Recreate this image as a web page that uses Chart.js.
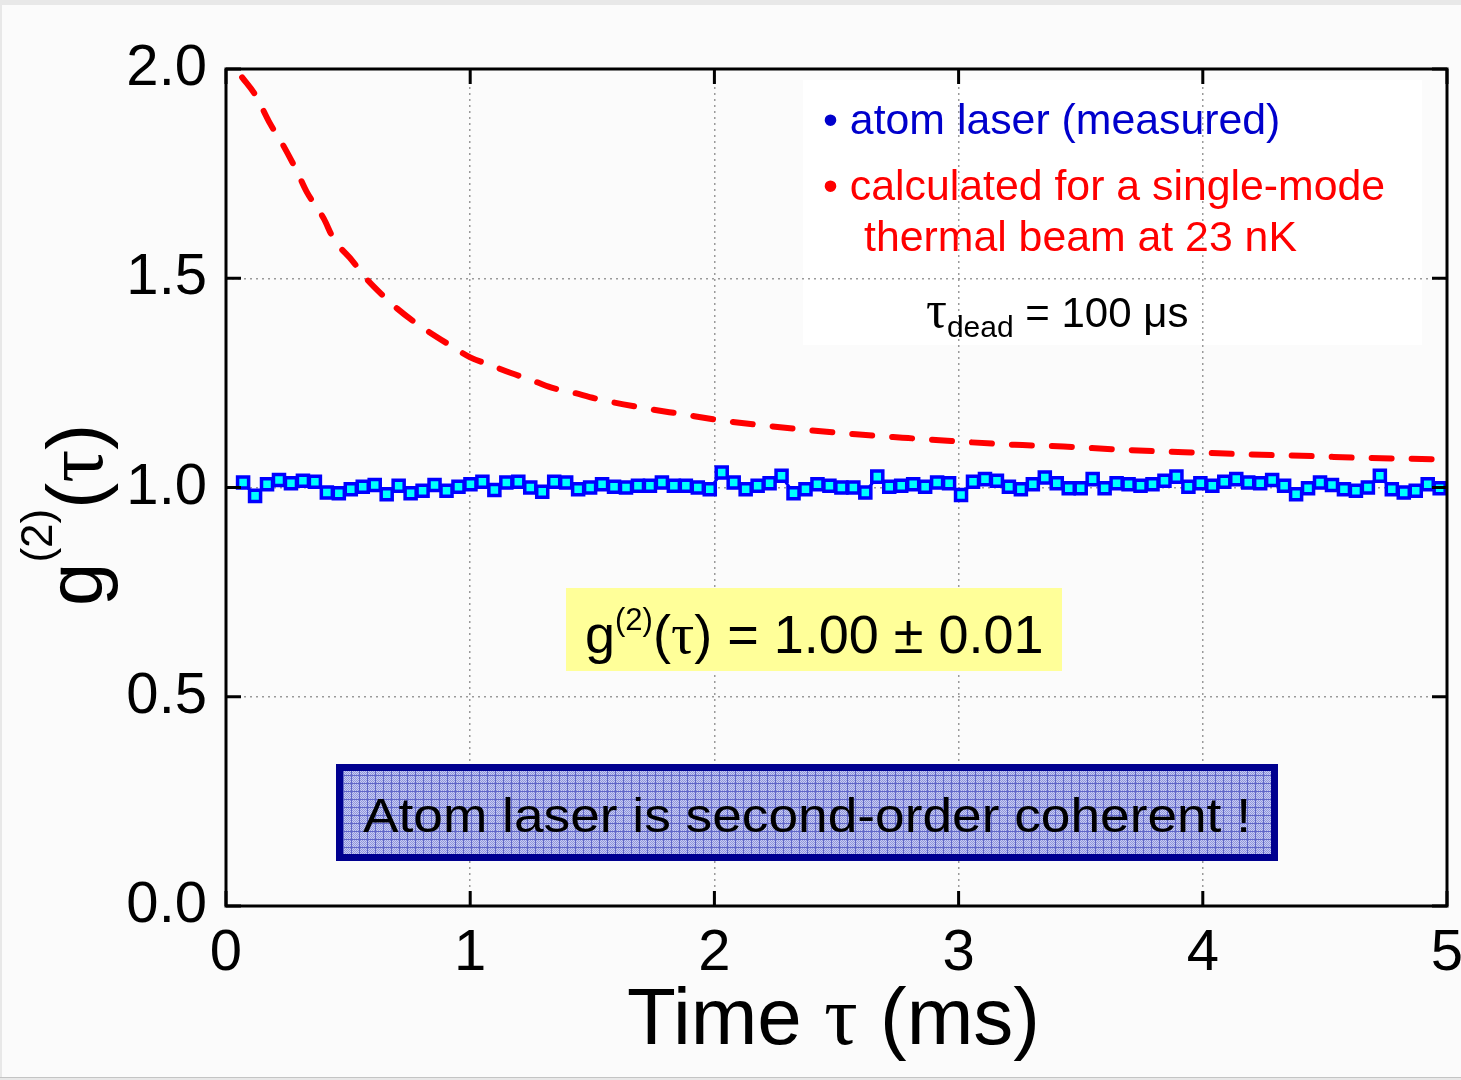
<!DOCTYPE html>
<html>
<head>
<meta charset="utf-8">
<title>g2 atom laser</title>
<script src="https://cdn.jsdelivr.net/npm/chart.js@4.4.1/dist/chart.umd.min.js"></script>
<style>
    html, body { margin: 0; padding: 0; background: #fbfbfb; }
    canvas { display: block; }
</style>
</head>
<body>
<canvas id="g2Chart" width="1461" height="1080"></canvas>
<script>
// measured g2 (time bins in ms)
var measuredTau = [0.070, 0.119, 0.168, 0.217, 0.266, 0.315, 0.364, 0.413, 0.462, 0.511,
    0.560, 0.609, 0.658, 0.707, 0.756, 0.805, 0.854, 0.903, 0.952, 1.001,
    1.050, 1.099, 1.148, 1.197, 1.246, 1.295, 1.344, 1.393, 1.442, 1.491,
    1.540, 1.589, 1.638, 1.687, 1.736, 1.785, 1.834, 1.883, 1.932, 1.981,
    2.030, 2.079, 2.128, 2.177, 2.226, 2.275, 2.324, 2.373, 2.422, 2.471,
    2.520, 2.569, 2.618, 2.667, 2.716, 2.765, 2.814, 2.863, 2.912, 2.961,
    3.010, 3.059, 3.108, 3.157, 3.206, 3.255, 3.304, 3.353, 3.402, 3.451,
    3.500, 3.549, 3.598, 3.647, 3.696, 3.745, 3.794, 3.843, 3.892, 3.941,
    3.990, 4.039, 4.088, 4.137, 4.186, 4.235, 4.284, 4.333, 4.382, 4.431,
    4.480, 4.529, 4.578, 4.627, 4.676, 4.725, 4.774, 4.823, 4.872, 4.921, 4.970];
var measuredG2 = [1.012, 0.980, 1.008, 1.018, 1.010, 1.016, 1.014, 0.988, 0.986, 0.996,
    1.002, 1.006, 0.984, 1.004, 0.986, 0.992, 1.006, 0.992, 1.002, 1.008,
    1.014, 0.994, 1.012, 1.014, 1.000, 0.990, 1.014, 1.012, 0.996, 1.000,
    1.008, 1.002, 1.000, 1.004, 1.004, 1.012, 1.004, 1.004, 1.000, 0.996,
    1.036, 1.012, 0.996, 1.004, 1.010, 1.028, 0.986, 0.996, 1.008, 1.004,
    1.000, 1.000, 0.988, 1.026, 1.002, 1.004, 1.008, 1.002, 1.012, 1.010,
    0.982, 1.014, 1.020, 1.016, 1.002, 0.996, 1.008, 1.024, 1.010, 0.998,
    0.998, 1.020, 0.998, 1.010, 1.008, 1.004, 1.008, 1.016, 1.026, 1.002,
    1.010, 1.004, 1.014, 1.020, 1.012, 1.010, 1.018, 1.004, 0.984, 0.998,
    1.012, 1.006, 0.996, 0.992, 1.000, 1.028, 0.996, 0.988, 0.992, 1.008, 0.998];

// calculated single-mode thermal beam, 23 nK
var calcTau = [0.066, 0.12, 0.18, 0.23, 0.29, 0.33, 0.40, 0.44, 0.52, 0.57,
    0.64, 0.70, 0.78, 0.92, 1.00, 1.08, 1.17, 1.25, 1.33, 1.42,
    1.51, 1.70, 1.87, 2.02, 2.13, 2.39, 2.58, 2.77, 2.97, 3.23,
    3.43, 3.61, 3.80, 4.00, 4.19, 4.45, 4.64, 5.00];
var calcG2 = [1.980, 1.938, 1.870, 1.822, 1.756, 1.707, 1.643, 1.595, 1.540, 1.502,
    1.460, 1.428, 1.392, 1.339, 1.311, 1.293, 1.273, 1.257, 1.239, 1.227,
    1.213, 1.191, 1.175, 1.161, 1.153, 1.137, 1.127, 1.119, 1.111, 1.102,
    1.098, 1.092, 1.087, 1.083, 1.079, 1.075, 1.071, 1.067];

var xTicks = [0, 1, 2, 3, 4, 5];
var yTicks = [0.0, 0.5, 1.0, 1.5, 2.0];

var SANS = "'Liberation Sans', Arial, sans-serif";
var SERIF = "'Liberation Serif', 'Times New Roman', serif";

function toPoints(xs, ys) {
    var pts = [];
    for (var i = 0; i < xs.length; i++) {
        pts.push({x: xs[i], y: ys[i]});
    }
    return pts;
}

// draws a list of text pieces one after the other, returns end x
function drawRuns(ctx, runs, x, y) {
    runs.forEach(function (r) {
        ctx.font = r.font;
        ctx.fillStyle = r.color || '#000';
        ctx.fillText(r.text, x, y + (r.dy || 0));
        x += ctx.measureText(r.text).width;
    });
    return x;
}

function hatchPattern(ctx) {
    var c = document.createElement('canvas');
    c.width = 8;
    c.height = 8;
    var p = c.getContext('2d');
    p.fillStyle = '#c8ccf2';
    p.fillRect(0, 0, 8, 8);
    p.fillStyle = '#9096dc';
    for (var i = 0; i < 8; i++) {
        for (var j = 0; j < 8; j++) {
            if ((i + j) % 2 === 0) p.fillRect(i, j, 1, 1);
        }
    }
    p.fillStyle = '#6066c8';
    p.fillRect(0, 7, 8, 1);
    p.fillRect(7, 0, 1, 8);
    return ctx.createPattern(c, 'repeat');
}

var decorations = {
    id: 'decorations',
    beforeDraw: function (chart) {
        var ctx = chart.ctx;
        ctx.save();
        ctx.fillStyle = '#e8e8e8';
        ctx.fillRect(0, 0, chart.width, chart.height);
        ctx.fillStyle = '#fbfbfb';
        ctx.fillRect(2, 5, chart.width - 2, 1072);
        ctx.fillStyle = '#c4c4c4';
        ctx.fillRect(0, 1077, chart.width, 1);
        // legend panel (white, under the grid)
        ctx.fillStyle = '#ffffff';
        ctx.fillRect(803, 80, 619, 265);
        ctx.restore();
    },
    afterDatasetsDraw: function (chart) {
        var ctx = chart.ctx;
        var a = chart.chartArea;
        var xs = chart.scales.x, ys = chart.scales.y;
        ctx.save();

        // frame and inward ticks
        ctx.strokeStyle = '#000';
        ctx.lineWidth = 3;
        ctx.strokeRect(a.left, a.top, a.right - a.left, a.bottom - a.top);
        ctx.lineWidth = 3;
        ctx.beginPath();
        yTicks.forEach(function (v) {
            var py = ys.getPixelForValue(v);
            ctx.moveTo(a.left, py); ctx.lineTo(a.left + 15, py);
            ctx.moveTo(a.right, py); ctx.lineTo(a.right - 15, py);
        });
        xTicks.forEach(function (v) {
            var px = xs.getPixelForValue(v);
            ctx.moveTo(px, a.bottom); ctx.lineTo(px, a.bottom - 15);
            ctx.moveTo(px, a.top); ctx.lineTo(px, a.top + 15);
        });
        ctx.stroke();

        ctx.textAlign = 'left';
        ctx.textBaseline = 'alphabetic';

        // legend text
        drawRuns(ctx, [{text: '\u2022 atom laser (measured)', font: '42.8px ' + SANS, color: '#0000cc'}], 823, 134);
        drawRuns(ctx, [{text: '\u2022 calculated for a single-mode', font: '42.8px ' + SANS, color: '#ff0000'}], 823, 200);
        drawRuns(ctx, [{text: 'thermal beam at 23 nK', font: '42.8px ' + SANS, color: '#ff0000'}], 864, 251);
        drawRuns(ctx, [
            {text: '\u03c4', font: '52px ' + SERIF},
            {text: 'dead', font: '30px ' + SANS, dy: 10},
            {text: ' = 100 \u03bcs', font: '42px ' + SANS}
        ], 926, 327);

        // yellow result box
        ctx.fillStyle = '#ffff99';
        ctx.fillRect(566, 588, 496, 83);
        drawRuns(ctx, [
            {text: 'g', font: '54px ' + SANS},
            {text: '(2)', font: '31px ' + SANS, dy: -23},
            {text: '(', font: '54px ' + SANS},
            {text: '\u03c4', font: '58px ' + SERIF},
            {text: ') = 1.00 \u00b1 0.01', font: '54px ' + SANS}
        ], 585, 653);

        // hatched conclusion box
        ctx.fillStyle = hatchPattern(ctx);
        ctx.fillRect(340, 768, 934, 89);
        ctx.strokeStyle = '#00008f';
        ctx.lineWidth = 7;
        ctx.strokeRect(339.5, 767.5, 935, 90);
        ctx.font = '48px ' + SANS;
        var msg = 'Atom laser is second-order coherent !';
        var w = ctx.measureText(msg).width;
        ctx.save();
        ctx.translate(363, 832);
        ctx.scale(888 / w, 1);
        ctx.fillStyle = '#000';
        ctx.fillText(msg, 0, 0);
        ctx.restore();

        // x axis title
        drawRuns(ctx, [
            {text: 'Time ', font: '80px ' + SANS},
            {text: '\u03c4', font: '84px ' + SERIF},
            {text: ' (ms)', font: '80px ' + SANS}
        ], 627, 1044);

        // y axis title, rotated
        ctx.save();
        ctx.translate(102, 606);
        ctx.rotate(-Math.PI / 2);
        drawRuns(ctx, [
            {text: 'g', font: '78px ' + SANS},
            {text: '(2)', font: '44px ' + SANS, dy: -50},
            {text: '(', font: '78px ' + SANS},
            {text: '\u03c4', font: '82px ' + SERIF},
            {text: ')', font: '78px ' + SANS}
        ], 0, 0);
        ctx.restore();

        ctx.restore();
    }
};

new Chart(document.getElementById('g2Chart').getContext('2d'), {
    type: 'scatter',
    data: {
        datasets: [
            {
                label: 'calculated',
                data: toPoints(calcTau, calcG2),
                showLine: true,
                borderColor: '#ff0000',
                borderWidth: 6,
                borderDash: [20, 20],
                borderCapStyle: 'round',
                cubicInterpolationMode: 'monotone',
                pointRadius: 0
            },
            {
                label: 'atom laser (measured)',
                data: toPoints(measuredTau, measuredG2),
                showLine: true,
                borderColor: '#0000ff',
                borderWidth: 3,
                pointStyle: 'rect',
                pointRadius: 7.8,
                pointBorderWidth: 3.5,
                pointBackgroundColor: '#00ffff',
                pointBorderColor: '#0000ff'
            }
        ]
    },
    options: {
        responsive: false,
        animation: false,
        devicePixelRatio: 1,
        layout: {padding: {left: 0, top: 69, right: 14, bottom: 0}},
        plugins: {legend: {display: false}, tooltip: {enabled: false}},
        scales: {
            x: {
                type: 'linear',
                min: 0, max: 5,
                afterBuildTicks: function (scale) {
                    scale.ticks = xTicks.map(function (v) { return {value: v}; });
                },
                afterFit: function (scale) {
                    scale.height = 174;
                    scale.paddingLeft = 0;
                    scale.paddingRight = 0;
                },
                grid: {color: '#9a9a9a', lineWidth: 1.5, drawTicks: false},
                border: {display: false, dash: [2, 4]},
                ticks: {
                    padding: 13,
                    color: '#000',
                    font: {family: SANS, size: 58},
                    maxRotation: 0,
                    callback: function (v) { return String(v); }
                }
            },
            y: {
                type: 'linear',
                min: 0, max: 2,
                afterBuildTicks: function (scale) {
                    scale.ticks = yTicks.map(function (v) { return {value: v}; });
                },
                afterFit: function (scale) {
                    scale.width = 226;
                },
                grid: {color: '#9a9a9a', lineWidth: 1.5, drawTicks: false},
                border: {display: false, dash: [2, 4]},
                ticks: {
                    padding: 19,
                    color: '#000',
                    font: {family: SANS, size: 58},
                    callback: function (v) { return v.toFixed(1); }
                }
            }
        }
    },
    plugins: [decorations]
});
</script>
</body>
</html>
